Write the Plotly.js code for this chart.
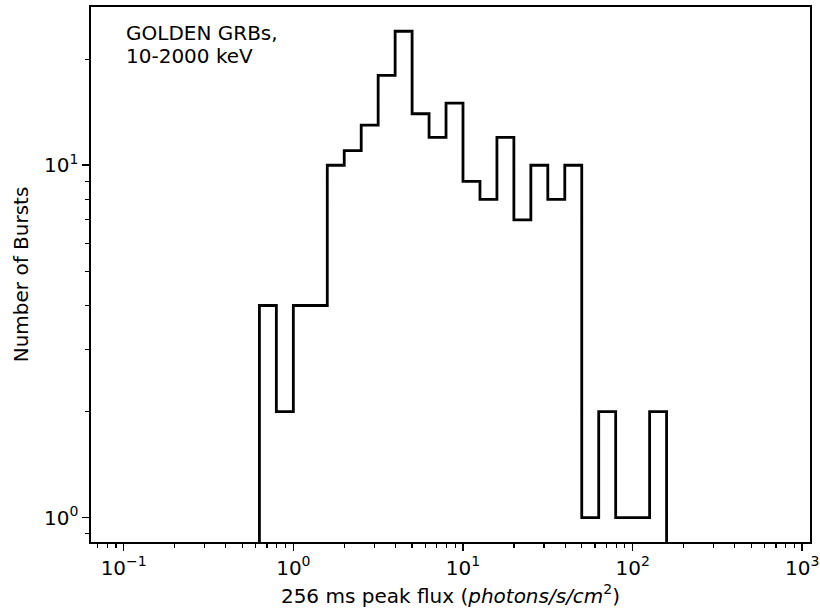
<!DOCTYPE html>
<html>
<head>
<meta charset="utf-8">
<script src="https://cdn.plot.ly/plotly-3.0.1.min.js"></script>
<style>
  html, body { margin: 0; padding: 0; background: #fff; }
  #chart { width: 820px; height: 614px; }
</style>
</head>
<body>
<div id="chart"></div>
<script>
// Histogram bin edges (photons/s/cm^2) and burst counts per bin
const binEdges = [0.631, 0.794, 1.0, 1.259, 1.585, 1.995, 2.512, 3.162, 3.981, 5.012,
                  6.310, 7.943, 10.0, 12.59, 15.85, 19.95, 25.12, 31.62, 39.81, 50.12,
                  63.10, 79.43, 100.0, 125.9, 158.5];
const burstCounts = [4, 2, 4, 4, 10, 11, 13, 18, 24, 14,
                     12, 15, 9, 8, 12, 7, 10, 8, 10, 1,
                     2, 1, 1, 2];

// Tick values and labels
const xTickVals = [0.1, 1, 10, 100, 1000];
const xTickText = ["10<sup>\u22121</sup>", "10<sup>0</sup>", "10<sup>1</sup>", "10<sup>2</sup>", "10<sup>3</sup>"];
const yTickVals = [1, 10];
const yTickText = ["10<sup>0</sup>", "10<sup>1</sup>"];

// Build the step outline from the edges and counts (baseline below axis, clipped)
const baseline = 0.1;
const sx = [binEdges[0]], sy = [baseline];
for (let i = 0; i < burstCounts.length; i++) {
  sx.push(binEdges[i], binEdges[i + 1]);
  sy.push(burstCounts[i], burstCounts[i]);
}
sx.push(binEdges[binEdges.length - 1]);
sy.push(baseline);

const trace = {
  x: sx, y: sy, type: 'scatter', mode: 'lines',
  line: { color: '#000', width: 2.8 },
  hoverinfo: 'skip', showlegend: false
};

const font = { family: 'DejaVu Sans, sans-serif', size: 20, color: '#000' };

const axisCommon = {
  type: 'log',
  showgrid: false, zeroline: false,
  showline: true, linecolor: '#000', linewidth: 1.6, mirror: true,
  ticks: 'outside', ticklen: 7, tickwidth: 1.6, tickcolor: '#000',
  tickfont: font,
  tickmode: 'array',
  minor: { ticks: 'outside', ticklen: 4, tickwidth: 1.2, tickcolor: '#000', dtick: 'D1', showgrid: false }
};

const layout = {
  width: 820, height: 614,
  margin: { l: 91, r: 10, t: 7, b: 72 },
  paper_bgcolor: '#fff', plot_bgcolor: '#fff',
  font: font,
  xaxis: Object.assign({}, axisCommon, {
    range: [-1.1927, 3.0454],
    tickvals: xTickVals, ticktext: xTickText,
    title: { text: '256 ms peak flux (<i>photons/s/cm</i><sup>2</sup>)', font: font, standoff: 10 }
  }),
  yaxis: Object.assign({}, axisCommon, {
    range: [-0.069, 1.449],
    tickvals: yTickVals, ticktext: yTickText,
    title: { text: 'Number of Bursts', font: font, standoff: 10 }
  }),
  annotations: [
    { xref: 'paper', yref: 'paper', x: 0.046, y: 0.978, xanchor: 'left', yanchor: 'top',
      text: 'GOLDEN GRBs,', showarrow: false, font: font, align: 'left' },
    { xref: 'paper', yref: 'paper', x: 0.046, y: 0.934, xanchor: 'left', yanchor: 'top',
      text: '10-2000 keV', showarrow: false, font: font, align: 'left' }
  ]
};

Plotly.newPlot('chart', [trace], layout, { staticPlot: true, displayModeBar: false });
</script>
</body>
</html>
